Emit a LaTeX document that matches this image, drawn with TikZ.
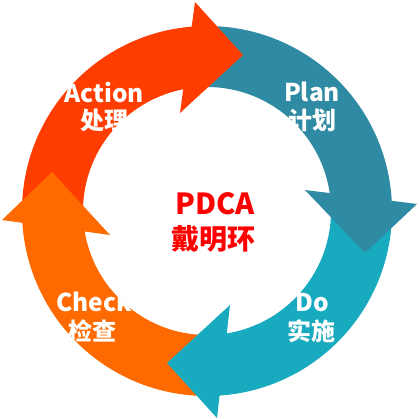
\documentclass[tikz,border=0pt]{standalone}
\usepackage{fontspec}
\newfontfamily\cjk{Noto Sans CJK SC}
\definecolor{cred}{RGB}{255,61,0}
\definecolor{cblue}{RGB}{47,138,163}
\definecolor{cteal}{RGB}{24,170,190}
\definecolor{corange}{RGB}{255,106,0}
\definecolor{ctext}{RGB}{255,0,0}
\tikzset{
  lablat/.style={text=white, font=\cjk\bfseries\fontsize{24.5}{28}\selectfont, anchor=base, inner sep=0pt},
  labcjk/.style={text=white, font=\cjk\bfseries\fontsize{24}{28}\selectfont, anchor=base, inner sep=0pt},
  centlat/.style={text=ctext, font=\cjk\bfseries\fontsize{29}{32}\selectfont, anchor=base, inner sep=0pt},
  centcjk/.style={text=ctext, font=\cjk\bfseries\fontsize{28}{32}\selectfont, anchor=base, inner sep=0pt}
}
\begin{document}
\begin{tikzpicture}[x=1pt,y=1pt]
\useasboundingbox (-207,-208) rectangle (211,211);
\fill[white] (-207,-208) rectangle (211,211);
\def\Ro{185}
\def\Ri{124}
% arrow bodies
\foreach \ph/\col in {0/cred,-90/cblue,-180/cteal,-270/corange}{
  \fill[\col] ({\ph+179}:\Ro) arc[start angle={\ph+179}, end angle={\ph+91}, radius=\Ro]
    -- ({\ph+96}:\Ri) arc[start angle={\ph+96}, end angle={\ph+183}, radius=\Ri] -- cycle;
}
% arrow heads
\fill[cred] (-12,209) -- (36,156) -- (-27,98) -- cycle;
\fill[cblue] (210,7) -- (158,-42) -- (98,21) -- cycle;
\fill[cteal] (10,-207) -- (-40,-152) -- (23,-94) -- cycle;
\fill[corange] (-205,-9) -- (-155,39) -- (-97,-24) -- cycle;
% labels
\node[lablat] (act) at (-103,108) {Action};
\node[labcjk] (actc) at (-102,81) {处理};
\node[lablat] (plan) at (105,109) {Plan};
\node[labcjk] (planc) at (105,81) {计划};
\node[lablat] (chk) at (-113,-100) {Check};
\node[labcjk] (chkc) at (-114,-129) {检查};
\node[lablat] (do) at (105,-100) {Do};
\node[labcjk] (doc) at (104,-129) {实施};
\node[centlat] (pdca) at (8,-4) {PDCA};
\node[centcjk] (dm) at (6,-39) {戴明环};
\end{tikzpicture}
\end{document}
